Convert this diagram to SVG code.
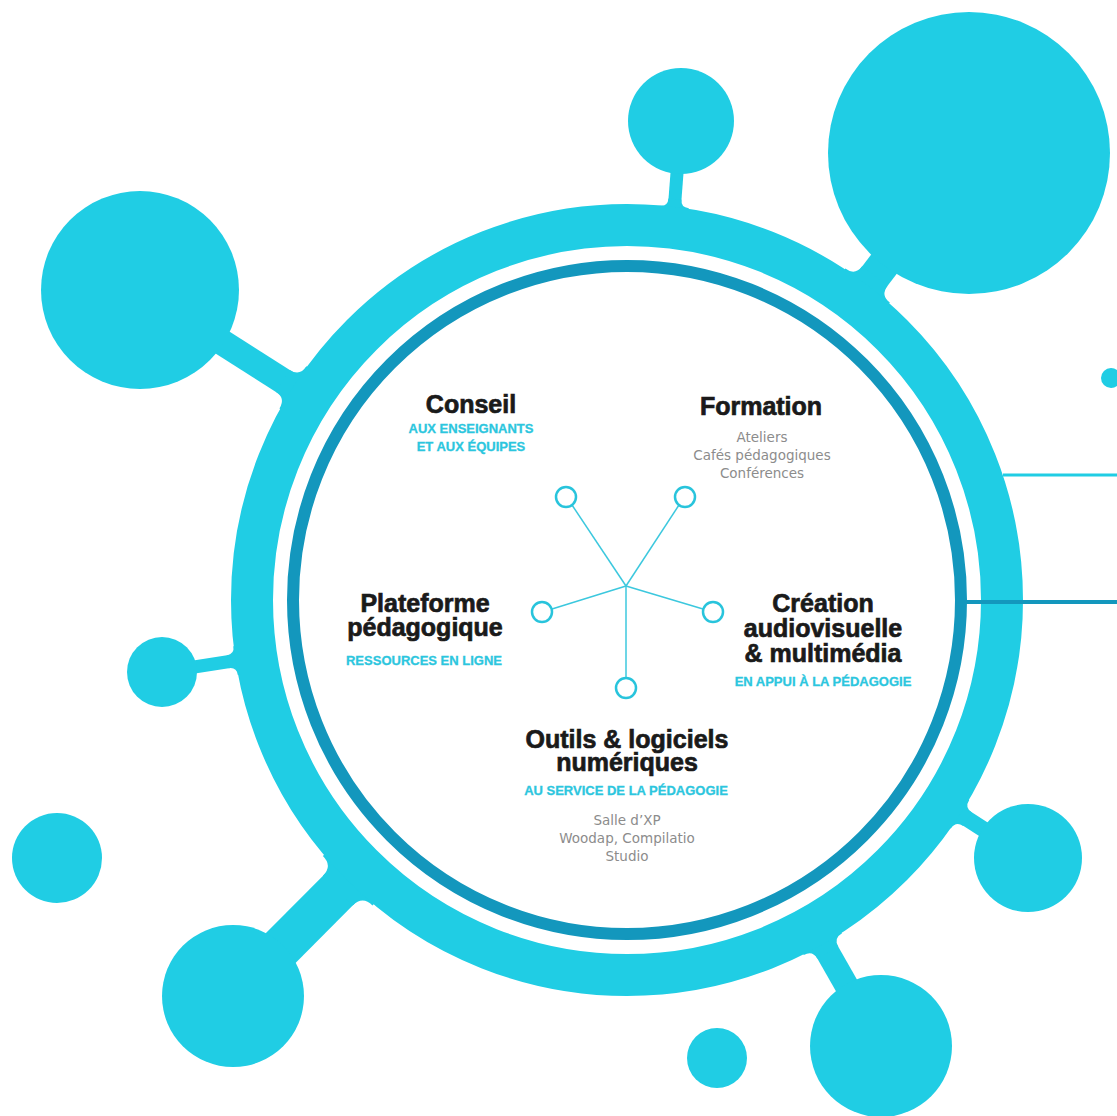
<svg xmlns="http://www.w3.org/2000/svg" width="1117" height="1116" viewBox="0 0 1117 1116">
<style>
.cy{fill:#20cde4}
.con{stroke:#20cde4;stroke-linecap:butt;fill:none}
.ttl{font-family:"Liberation Sans",Arial,sans-serif;font-weight:bold;font-size:25px;fill:#1a1a1a;stroke:#1a1a1a;stroke-width:0.7;text-anchor:middle}
.sub{font-family:"Liberation Sans",Arial,sans-serif;font-weight:bold;font-size:13px;fill:#2cc6de;stroke:#2cc6de;stroke-width:0.3;text-anchor:middle}
.det{font-family:"DejaVu Sans","Liberation Sans",sans-serif;font-size:13.5px;fill:#8c8c8c;text-anchor:middle}
.star{stroke:#3cc8de;stroke-width:1.5;fill:none}
.node{stroke:#28c4dc;stroke-width:2.5;fill:#fff}
</style>
<rect width="1117" height="1116" fill="#fff"/>
<g id="connectors">
  <line class="con" x1="140" y1="290" x2="323.3" y2="406.7" stroke-width="26"/>
  <path class="cy" transform="translate(292.9,387.3) rotate(-147.5)" d="M12,13 Q0,13 0,25 L-8,25 L-8,-25 L0,-25 Q0,-13 12,-13 Z"/>
  <line class="con" x1="681" y1="121" x2="673" y2="225" stroke-width="13"/>
  <path class="cy" transform="translate(674.3,207) rotate(-85.4)" d="M8,6.5 Q0,6.5 0,14.5 L-8,14.5 L-8,-14.5 L0,-14.5 Q0,-6.5 8,-6.5 Z"/>
  <line class="con" x1="969" y1="153" x2="845.8" y2="314.1" stroke-width="32"/>
  <path class="cy" transform="translate(867.6,285.5) rotate(-52.6)" d="M12,16 Q0,16 0,28 L-8,28 L-8,-28 L0,-28 Q0,-16 12,-16 Z"/>
  <line class="con" x1="162" y1="672" x2="271.2" y2="655.1" stroke-width="13"/>
  <path class="cy" transform="translate(235.6,660.6) rotate(171.2)" d="M8,6.5 Q0,6.5 0,14.5 L-8,14.5 L-8,-14.5 L0,-14.5 Q0,-6.5 8,-6.5 Z"/>
  <line class="con" x1="233" y1="996" x2="373.1" y2="855.2" stroke-width="42"/>
  <path class="cy" transform="translate(347.7,880.7) rotate(134.9)" d="M14,21 Q0,21 0,35 L-8,35 L-8,-35 L0,-35 Q0,-21 14,-21 Z"/>
  <line class="con" x1="881" y1="1046" x2="805.1" y2="912.8" stroke-width="24"/>
  <path class="cy" transform="translate(822.9,944.1) rotate(60.3)" d="M10,12 Q0,12 0,22 L-8,22 L-8,-22 L0,-22 Q0,-12 10,-12 Z"/>
  <line class="con" x1="1028" y1="858" x2="929.8" y2="794.8" stroke-width="16"/>
  <path class="cy" transform="translate(960,814.3) rotate(32.8)" d="M9,8 Q0,8 0,17 L-8,17 L-8,-17 L0,-17 Q0,-8 9,-8 Z"/>
  <line x1="1003" y1="475" x2="1117" y2="475" stroke="#20cde4" stroke-width="3"/>
  <g id="star-lines">
    <line class="star" x1="626" y1="586" x2="572" y2="505"/>
    <line class="star" x1="626" y1="586" x2="679" y2="505"/>
    <line class="star" x1="626" y1="586" x2="552" y2="609"/>
    <line class="star" x1="626" y1="586" x2="703" y2="609"/>
    <line class="star" x1="626" y1="586" x2="626" y2="678"/>
  </g>
</g>
<g id="ring">
  <circle cx="627" cy="600" r="375" fill="none" stroke="#20cde4" stroke-width="42"/>
  <circle cx="627" cy="600" r="334" fill="none" stroke="#1397bd" stroke-width="12"/>
  <line x1="963" y1="602" x2="1117" y2="602" stroke="#1397bd" stroke-width="4"/>
</g>
<g id="satellites">
  <circle id="sat-tl" class="cy" cx="140" cy="290" r="99"/>
  <circle id="sat-top" class="cy" cx="681" cy="121" r="53"/>
  <circle id="sat-tr" class="cy" cx="969" cy="153" r="141"/>
  <circle id="sat-l" class="cy" cx="162" cy="672" r="35"/>
  <circle id="sat-l2" class="cy" cx="57" cy="858" r="45"/>
  <circle id="sat-bl" class="cy" cx="233" cy="996" r="71"/>
  <circle id="sat-br" class="cy" cx="881" cy="1046" r="71"/>
  <circle id="sat-b" class="cy" cx="717" cy="1058" r="30"/>
  <circle id="sat-r" class="cy" cx="1028" cy="858" r="54"/>
  <circle id="sat-dot" class="cy" cx="1111" cy="378" r="10"/>
</g>
<g id="star-nodes">
  <circle class="node" cx="566" cy="497" r="10"/>
  <circle class="node" cx="685" cy="497" r="10"/>
  <circle class="node" cx="542" cy="612" r="10"/>
  <circle class="node" cx="713" cy="612" r="10"/>
  <circle class="node" cx="626" cy="688" r="10"/>
</g>
<g id="conseil">
  <text class="ttl" x="471" y="413">Conseil</text>
  <text class="sub" x="471" y="433">AUX ENSEIGNANTS</text>
  <text class="sub" x="471" y="451">ET AUX ÉQUIPES</text>
</g>
<g id="formation">
  <text class="ttl" x="761" y="415">Formation</text>
  <text class="det" x="762" y="442">Ateliers</text>
  <text class="det" x="762" y="460">Cafés pédagogiques</text>
  <text class="det" x="762" y="478">Conférences</text>
</g>
<g id="plateforme">
  <text class="ttl" x="425" y="612">Plateforme</text>
  <text class="ttl" x="425" y="636">pédagogique</text>
  <text class="sub" x="424" y="665">RESSOURCES EN LIGNE</text>
</g>
<g id="creation">
  <text class="ttl" x="823" y="612">Création</text>
  <text class="ttl" x="823" y="637">audiovisuelle</text>
  <text class="ttl" x="823" y="662">&amp; multimédia</text>
  <text class="sub" x="823" y="686">EN APPUI À LA PÉDAGOGIE</text>
</g>
<g id="outils">
  <text class="ttl" x="627" y="748">Outils &amp; logiciels</text>
  <text class="ttl" x="627" y="771">numériques</text>
  <text class="sub" x="626" y="795">AU SERVICE DE LA PÉDAGOGIE</text>
  <text class="det" x="627" y="825">Salle d’XP</text>
  <text class="det" x="627" y="843">Woodap, Compilatio</text>
  <text class="det" x="627" y="861">Studio</text>
</g>
</svg>
